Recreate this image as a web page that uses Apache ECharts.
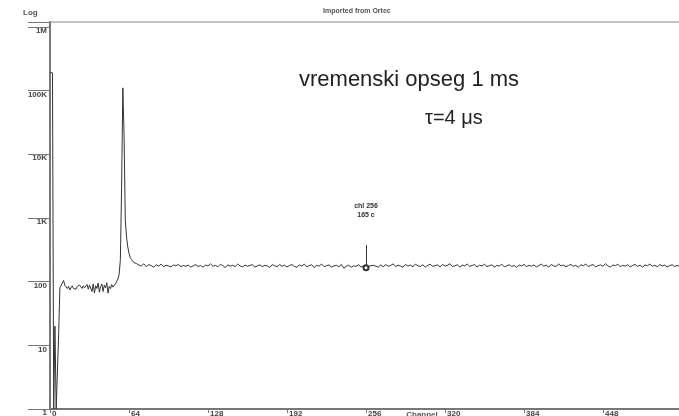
<!DOCTYPE html>
<html>
<head>
<meta charset="utf-8">
<script src="https://cdn.jsdelivr.net/npm/echarts@6/dist/echarts.min.js"></script>
<style>
  html, body { margin: 0; padding: 0; background: #fff; }
  #chart { width: 679px; height: 416px; }
</style>
</head>
<body>
<div id="chart"></div>
<script>
// counts for channels 0..70 (one per channel)
var headCounts = [
  190000, 190000, 190000, 1, 20, 1, 1, 15, 80,
  82, 95, 104, 88, 92, 78, 84, 74, 80, 86,
  78, 82, 76, 84, 80, 88, 82, 78, 86, 80,
  84, 90, 76, 88, 82, 70, 92, 66, 86, 78,
  95, 68, 84, 92, 70, 88, 80, 96, 66, 84,
  78, 90, 82, 86, 92, 88,
  110, 130, 220, 3000, 110000, 20000, 900, 500, 350, 280,
  240, 222, 210, 200, 205, 192
];

// counts for channels 72..512, every 2nd channel
var tailStart = 72;
var tailStep = 2;
var tailCounts = [
  182, 176, 190, 171, 185, 178, 168, 184, 175, 188, 172, 180, 176, 170, 183, 177, 186, 172, 179, 174,
  181, 169, 177, 185, 173, 179, 168, 182, 176, 190, 174, 180, 171, 187, 178, 166, 183, 175, 180, 172,
  188, 176, 170, 182, 174, 179, 185, 168, 177, 183, 172, 180, 176, 167, 184, 178, 171, 186, 174, 181,
  170, 179, 185, 173, 168, 182, 176, 188, 171, 178, 184, 166, 180, 175, 189, 172, 177, 183, 169, 176,
  180, 171, 186, 162, 174, 181, 168, 177, 173, 184, 170, 176, 165, 172, 178, 180, 174, 169, 183, 171,
  185, 174, 179, 190, 172, 181, 176, 168, 186, 175, 182, 171, 188, 177, 173, 184, 169, 180, 187, 174,
  178, 183, 170, 186, 175, 180, 191, 172, 177, 184, 168, 182, 176, 189, 173, 179, 185, 170, 181, 176,
  187, 172, 178, 183, 169, 180, 175, 188, 171, 177, 184, 173, 179, 167, 182, 176, 186, 172, 180, 174,
  183, 170, 178, 188, 175, 181, 169, 185, 177, 172, 190, 176, 182, 171, 179, 186, 174, 180, 168, 184,
  177, 189, 172, 180, 185, 170, 178, 183, 174, 191, 176, 169, 182, 178, 187, 172, 180, 175, 184, 170,
  179, 186, 173, 181, 168, 183, 177, 189, 174, 180, 171, 185, 176, 182, 170, 178, 184, 173, 179, 175,
  181
];

var xTicks = [0, 64, 128, 192, 256, 320, 384, 448, 512];
var yTickLabels = { 1: "1", 10: "10", 100: "100", 1000: "1K", 10000: "10K", 100000: "100K", 1000000: "1M" };

// cursor
var cursorChannel = 256;
var cursorCount = 165;
var cursorTop = 375;

var points = [];
headCounts.forEach(function (c, i) { points.push([i, c]); });
tailCounts.forEach(function (c, i) { points.push([tailStart + i * tailStep, c]); });

var myChart = echarts.init(document.getElementById("chart"), null, { renderer: "canvas" });

var option = {
  animation: false,
  backgroundColor: "#fff",
  title: [
    { text: "Imported from Ortec", left: 318, top: 3,
      textStyle: { fontSize: 7, fontWeight: "bold", color: "#555", fontFamily: "Liberation Sans" } },
    { text: "Log", left: 18, top: 4,
      textStyle: { fontSize: 8, fontWeight: "bold", color: "#555", fontFamily: "Liberation Sans" } },
    { text: "vremenski opseg 1 ms", left: 294, top: 64,
      textStyle: { fontSize: 22, fontWeight: "normal", color: "#222", fontFamily: "Liberation Sans" } },
    { text: "τ=4 μs", left: 420, top: 103,
      textStyle: { fontSize: 20, fontWeight: "normal", color: "#222", fontFamily: "Liberation Sans" } }
  ],
  grid: {
    left: 50, top: 22, right: -3, bottom: 7,
    outerBoundsMode: "none",
    containLabel: false,
    show: true, borderColor: "#888", borderWidth: 1
  },
  xAxis: {
    type: "value",
    min: 0, max: 512, interval: 64,
    name: "Channel",
    nameLocation: "middle",
    nameGap: 2,
    nameMoveOverlap: false,
    nameTextStyle: { fontSize: 8, fontWeight: "bold", color: "#555", fontFamily: "Liberation Sans",
      verticalAlign: "top", padding: [0, 0, 0, 112] },
    axisLine: { lineStyle: { color: "#777", width: 2 } },
    axisTick: { length: 4, lineStyle: { color: "#777" } },
    splitLine: { show: false },
    axisLabel: {
      margin: 1, fontSize: 8, fontWeight: "bold", color: "#444", fontFamily: "Liberation Sans",
      align: "left", padding: [0, 0, 0, 2],
      customValues: xTicks,
      formatter: function (v) { return String(v); }
    }
  },
  yAxis: {
    type: "log",
    logBase: 10,
    min: 1, max: 1.19e6,
    splitNumber: 6,
    axisLine: { lineStyle: { color: "#777", width: 2 } },
    axisTick: { length: 22, lineStyle: { color: "#777" } },
    splitLine: { show: false },
    axisLabel: {
      margin: 3, fontSize: 8, fontWeight: "bold", color: "#444", fontFamily: "Liberation Sans",
      verticalAlign: "top",
      formatter: function (v) { return yTickLabels[Math.round(v)] || ""; }
    }
  },
  series: [
    {
      type: "line",
      data: points,
      showSymbol: false,
      symbol: "none",
      sampling: "none",
      lineStyle: { color: "#333", width: 1 },
      markLine: {
        silent: true,
        symbol: ["emptyCircle", "none"],
        symbolSize: 5,
        lineStyle: { color: "#333", width: 1, type: "solid" },
        label: {
          show: true, position: "end", distance: 25,
          formatter: "chl " + cursorChannel + "\n" + cursorCount + " c",
          fontSize: 7, fontWeight: "bold", color: "#333", fontFamily: "Liberation Sans", lineHeight: 9
        },
        data: [[{ coord: [cursorChannel, cursorCount] }, { coord: [cursorChannel, cursorTop] }]]
      }
    }
  ]
};

myChart.setOption(option);
window.addEventListener("resize", myChart.resize);
</script>
</body>
</html>
